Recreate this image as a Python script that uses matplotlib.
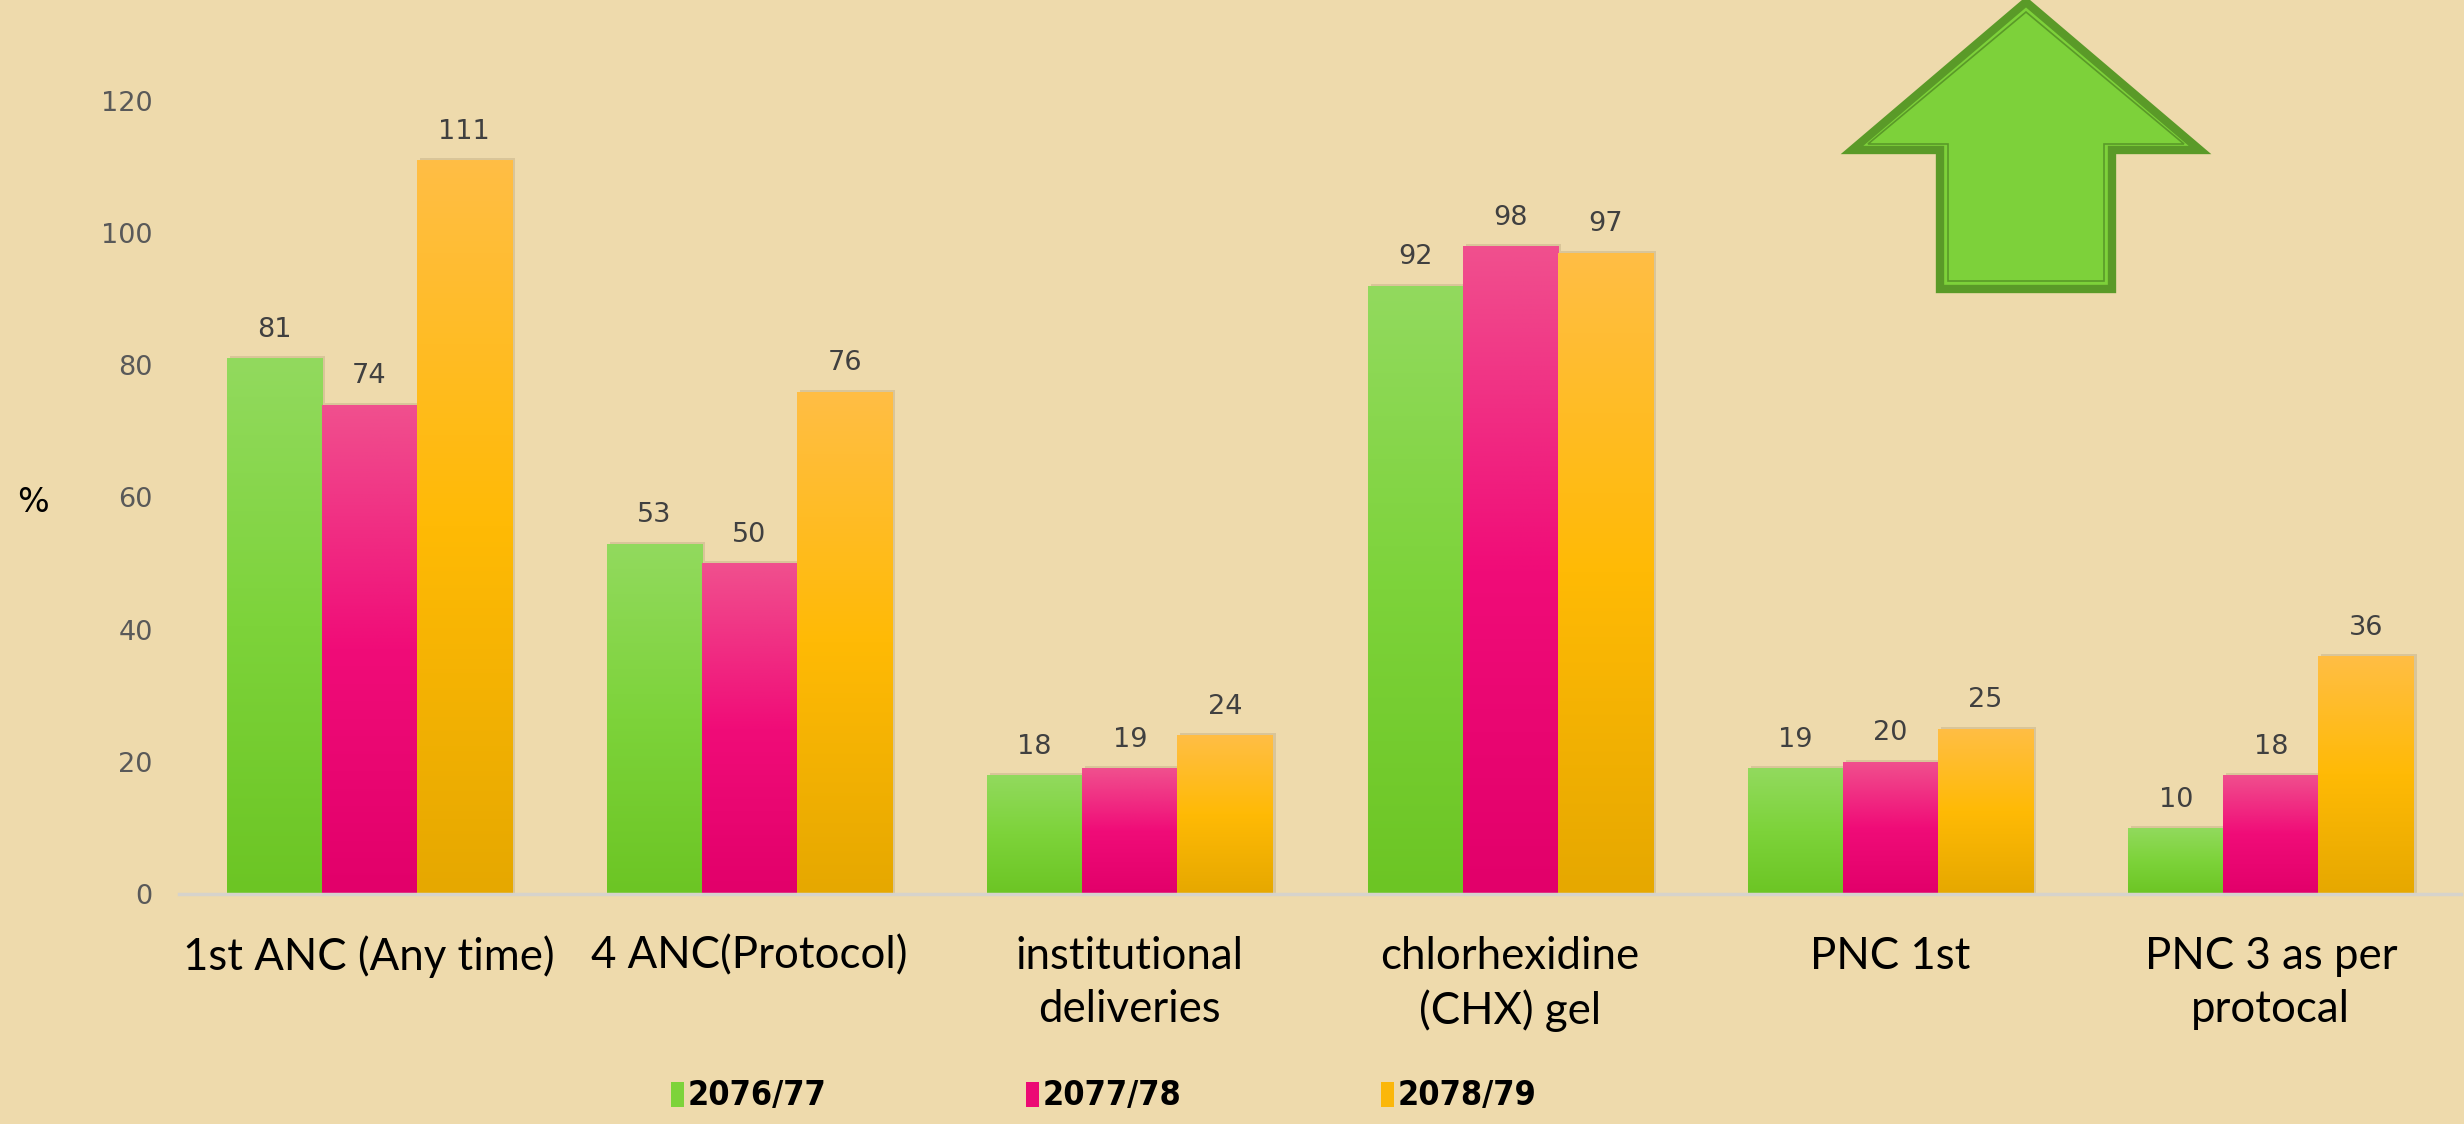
import numpy as np
import matplotlib
matplotlib.use("Agg")
import matplotlib.pyplot as plt
from matplotlib.patches import Polygon, Rectangle
from matplotlib.colors import LinearSegmentedColormap

categories = ["1st ANC (Any time)", "4 ANC(Protocol)", "institutional\ndeliveries",
              "chlorhexidine\n(CHX) gel", "PNC 1st", "PNC 3 as per\nprotocal"]
series_names = ["2076/77", "2077/78", "2078/79"]
v_2076 = [81, 53, 18, 92, 19, 10]
v_2077 = [74, 50, 19, 98, 20, 18]
v_2078 = [111, 76, 24, 97, 25, 36]
yticks = [0, 20, 40, 60, 80, 100, 120]

series_values = [v_2076, v_2077, v_2078]
grads = [
    ["#92DA5E", "#7DD33A", "#6CC524"],
    ["#F0508E", "#F00C78", "#E2006A"],
    ["#FFBE45", "#FFBA05", "#E6A800"],
]
legend_colors = ["#7DD33A", "#EC0A74", "#FBB70A"]
bg = "#EEDAAC"

W, H, DPI = 2464, 1124, 100
fig = plt.figure(figsize=(W / DPI, H / DPI), dpi=DPI, facecolor=bg)

left, right = 179 / W, 2461 / W
bottom, top = 1 - 894 / H, 1 - 100.6 / H
ax = fig.add_axes([left, bottom, right - left, top - bottom])
ax.set_facecolor("none")

bw = 0.25
x = np.arange(len(categories))
grad_img = np.linspace(0, 1, 256).reshape(-1, 1)
for i, (vals, g) in enumerate(zip(series_values, grads)):
    cmap = LinearSegmentedColormap.from_list(f"g{i}", [g[2], g[1], g[0]])
    xs = x + (i - 1) * bw
    bars = ax.bar(xs, vals, width=bw, color=g[1], edgecolor="none", zorder=3)
    for b, v in zip(bars, vals):
        bx, by, bwid, bh = b.get_x(), b.get_y(), b.get_width(), b.get_height()
        sh = Rectangle((bx + 0.008, by), bwid, bh + 0.3, facecolor="#7a6a48",
                       alpha=0.18, edgecolor="none", zorder=2)
        ax.add_patch(sh)
        im = ax.imshow(grad_img, cmap=cmap, aspect="auto", origin="lower",
                       extent=[bx, bx + bwid, by, by + bh], zorder=3.5)
        im.set_clip_path(b)
        ax.annotate(f"{v}", (bx + bwid / 2, bh), xytext=(0, 11),
                    textcoords="offset points", ha="center", va="bottom",
                    fontsize=19.5, color="#404040", family="DejaVu Sans", zorder=5)

ax.set_xlim(-0.5, len(categories) - 0.5)
ax.set_ylim(0, 120)

for s in ["top", "right", "left"]:
    ax.spines[s].set_visible(False)
ax.spines["bottom"].set_color("#D6D3CC")
ax.spines["bottom"].set_linewidth(2.5)
ax.spines["bottom"].set_zorder(4)

ax.set_yticks(yticks)
ax.set_yticklabels([str(t) for t in yticks], fontsize=19.5, color="#595959",
                   family="DejaVu Sans")
ax.tick_params(axis="y", length=0, pad=19)
ax.set_xticks(x)
ax.set_xticklabels(categories, fontsize=31.5, color="black", family="Lato",
                   linespacing=1.38, va="top")
ax.tick_params(axis="x", length=0, pad=30)

fig.text(17 / W, 1 - 503 / H, "%", fontsize=24, color="black",
         family="DejaVu Sans", ha="left", va="center")

# legend
leg_y = 1 - 1095 / H
for k, (name, c) in enumerate(zip(series_names, legend_colors)):
    sx = 671 + k * 355
    fig.patches.append(Rectangle((sx / W, leg_y - 12 / H), 13 / W, 25 / H,
                                 transform=fig.transFigure, facecolor=c,
                                 edgecolor="none"))
    fig.text((sx + 17) / W, leg_y, name, fontsize=24.5, fontweight="bold",
             fontstretch="condensed",
             family=["DejaVu Sans"], color="black",
             ha="left", va="center")

# decorative up arrow
arrow_px = [(2026, 2), (2200, 150), (2112, 150), (2112, 289),
            (1940, 289), (1940, 150), (1852, 150)]
arrow = [(px / W, 1 - py / H) for px, py in arrow_px]
fig.patches.append(Polygon(arrow, closed=True, transform=fig.transFigure,
                           facecolor="#7DD13A", edgecolor="#5A9A28",
                           linewidth=6, joinstyle="miter"))
inner_px = [(2026, 12), (2184, 144), (2104, 144), (2104, 281),
            (1948, 281), (1948, 144), (1868, 144)]
inner = [(px / W, 1 - py / H) for px, py in inner_px]
fig.patches.append(Polygon(inner, closed=True, transform=fig.transFigure,
                           facecolor="none", edgecolor="#5A9A28",
                           linewidth=1.2, joinstyle="miter"))

fig.savefig("out.png", dpi=DPI, facecolor=bg)
